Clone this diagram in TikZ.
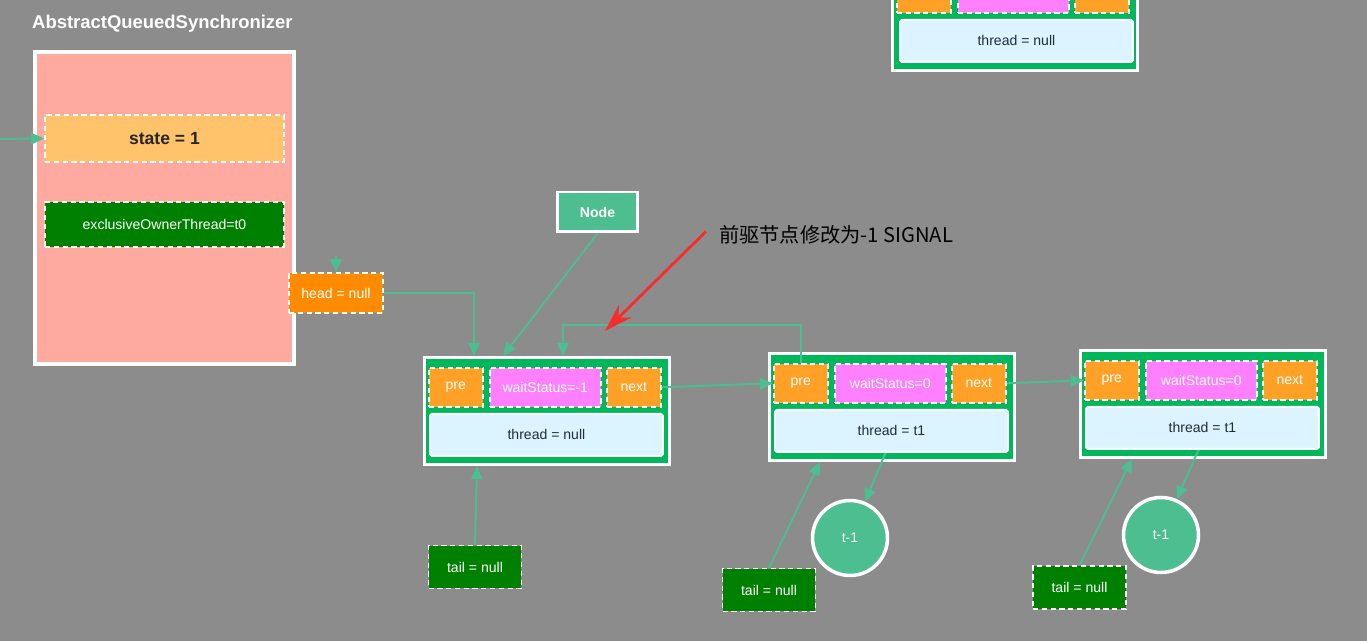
\documentclass[tikz,border=0pt]{standalone}
\usepackage{fontspec}
\setmainfont{Liberation Sans}
\newfontfamily\cjkfont{Noto Sans CJK SC}
\usepackage{tikz}
\usetikzlibrary{arrows.meta, positioning, calc}
\definecolor{bggray}{RGB}{140, 140, 140}
\definecolor{aqspink}{RGB}{255, 170, 160}
\definecolor{stateorange}{RGB}{255, 195, 107}
\definecolor{ownergreen}{RGB}{0, 128, 0}
\definecolor{headorange}{RGB}{255, 140, 0}
\definecolor{nodeteal}{RGB}{77, 190, 143}
\definecolor{nodegreen}{RGB}{0, 184, 92}
\definecolor{preorange}{RGB}{255, 161, 39}
\definecolor{wsmagenta}{RGB}{255, 128, 255}
\definecolor{threadblue}{RGB}{220, 244, 255}
\definecolor{threadtext}{RGB}{31, 45, 61}
\definecolor{linkteal}{RGB}{77, 190, 146}
\definecolor{notered}{RGB}{245, 45, 45}

\begin{document}
\begin{tikzpicture}[x=0.02cm, y=-0.02cm,
    link/.style={draw=linkteal, line width=1.1pt, -{Triangle[length=7.5pt, width=6.5pt]}},
    dashbox/.style={draw=white, dashed, dash pattern=on 3pt off 2pt, line width=0.9pt, inner sep=0pt},
    cell/.style={dashbox, minimum height=0.78cm, text=white, font=\fontsize{8}{9}\selectfont},
    qnode/.style={draw=white, line width=1.7pt, fill=nodegreen, minimum width=4.9cm, minimum height=2.14cm, inner sep=0pt},
    threadbox/.style={draw=white, line width=1.1pt, fill=threadblue, rounded corners=1pt, minimum width=4.66cm, minimum height=0.84cm, text=threadtext, font=\fontsize{8}{9}\selectfont},
    tailbox/.style={dashbox, fill=ownergreen, minimum width=1.86cm, minimum height=0.86cm, text=white, font=\fontsize{8}{9}\selectfont},
    tcircle/.style={circle, draw=white, line width=2pt, fill=nodeteal, minimum size=1.5cm, inner sep=0pt, text=white, font=\fontsize{8}{9}\selectfont},
    redarrow/.style={draw=notered, line width=1.6pt, -{Stealth[length=16pt, width=10pt]}}]

    % Canvas
    \useasboundingbox (0,0) rectangle (1367,641);
    \clip (0,0) rectangle (1367,641);
    \fill[bggray] (0,0) rectangle (1367,641);

    % AQS
    \node[anchor=west, text=white, font=\fontsize{10.5}{12}\selectfont\bfseries] (title) at (26,24) {AbstractQueuedSynchronizer};
    \node[draw=white, line width=2pt, fill=aqspink, minimum width=5.18cm, minimum height=6.24cm] (aqs) at (164.5,208) {};
    \node[dashbox, fill=stateorange, minimum width=4.78cm, minimum height=0.94cm, font=\fontsize{10}{12}\selectfont\bfseries, text=black!85] (state) at (164.5,138.5) {state = 1};
    \node[dashbox, fill=ownergreen, minimum width=4.78cm, minimum height=0.9cm, text=white, font=\fontsize{8}{9}\selectfont] (owner) at (164.5,224.5) {exclusiveOwnerThread=t0};
    \node[dashbox, fill=headorange, minimum width=1.88cm, minimum height=0.8cm, text=white, font=\fontsize{8}{9}\selectfont] (head) at (336,293) {head = null};

    % New node label
    \node[draw=white, line width=1.7pt, fill=nodeteal, minimum width=1.6cm, minimum height=0.8cm, text=white, font=\fontsize{8}{9}\selectfont\bfseries] (nodelbl) at (597.5,212) {Node};

    % Queue nodes
    \foreach \i/\x/\y/\ws/\thr in {1/423/356/-1/null, 2/768/352/0/t1, 3/1079/349/0/t1} {
        \node[qnode, anchor=north west] (n\i) at (\x,\y) {};
        \node[cell, fill=preorange, minimum width=1.08cm, anchor=north west] (n\i-pre) at ($(n\i.north west)+(5,11)$) {pre};
        \node[cell, fill=wsmagenta, minimum width=2.22cm, anchor=north west] (n\i-ws) at ($(n\i.north west)+(66,11)$) {waitStatus=\ws};
        \node[cell, fill=preorange, minimum width=1.08cm, anchor=north west] (n\i-next) at ($(n\i.north west)+(183,11)$) {next};
        \node[threadbox, anchor=north west] (n\i-thread) at ($(n\i.north west)+(6,57)$) {thread = \thr};
    }

    % Partial node at the top
    \node[qnode, anchor=north west] (top) at (891,-38) {};
    \node[cell, fill=preorange, minimum width=1.08cm, anchor=north west] (top-pre) at ($(top.north west)+(5,11)$) {};
    \node[cell, fill=wsmagenta, minimum width=2.22cm, anchor=north west] (top-ws) at ($(top.north west)+(66,11)$) {};
    \node[cell, fill=preorange, minimum width=1.08cm, anchor=north west] (top-next) at ($(top.north west)+(183,11)$) {};
    \node[threadbox, anchor=north west] (top-thread) at ($(top.north west)+(8,57)$) {thread = null};

    % Tails and threads
    \node[tailbox] (tail1) at (475,567) {tail = null};
    \node[tailbox] (tail2) at (769,590) {tail = null};
    \node[tailbox] (tail3) at (1079.5,587.5) {tail = null};
    \node[tcircle] (c2) at (850,538) {t-1};
    \node[tcircle] (c3) at (1161,535) {t-1};

    % Annotation
    \node[anchor=west, text=black, font=\cjkfont\fontsize{11.5}{13}\selectfont] (note) at (713,235) {前驱节点修改为-1 SIGNAL};
    \coordinate (pointat) at (605,331);
    \coordinate (enter) at (0,139);
    \coordinate (headin) at (336,256);

    % Links
    \draw[link] (enter) -- (state.west);
    \draw[link] (headin) -- (head.north);
    \draw[link] (head.east) -| ($(n1.north west)+(51,0)$);
    \draw[link] (nodelbl.south) -- ($(n1.north west)+(80,0)$);
    \draw[link] (n2-pre.north) -- ++(0,-38) -| ($(n1.north west)+(140,0)$);
    \draw[link] (n1-next.east) -- (n2-pre.west);
    \draw[link] (n2-next.east) -- (n3-pre.west);
    \draw[link] (tail1.north) -- ($(n1.south west)+(54,0)$);
    \draw[link] (tail2.north) -- ($(n2.south west)+(52,0)$);
    \draw[link] (tail3.north) -- ($(n3.south west)+(53,0)$);
    \draw[link] ($(n2-thread.south)+(-6,0)$) -- (c2);
    \draw[link] ($(n3-thread.south)+(-4,0)$) -- (c3);
    \draw[redarrow] ([xshift=-4pt, yshift=2pt]note.west) -- (pointat);

\end{tikzpicture}
\end{document}
